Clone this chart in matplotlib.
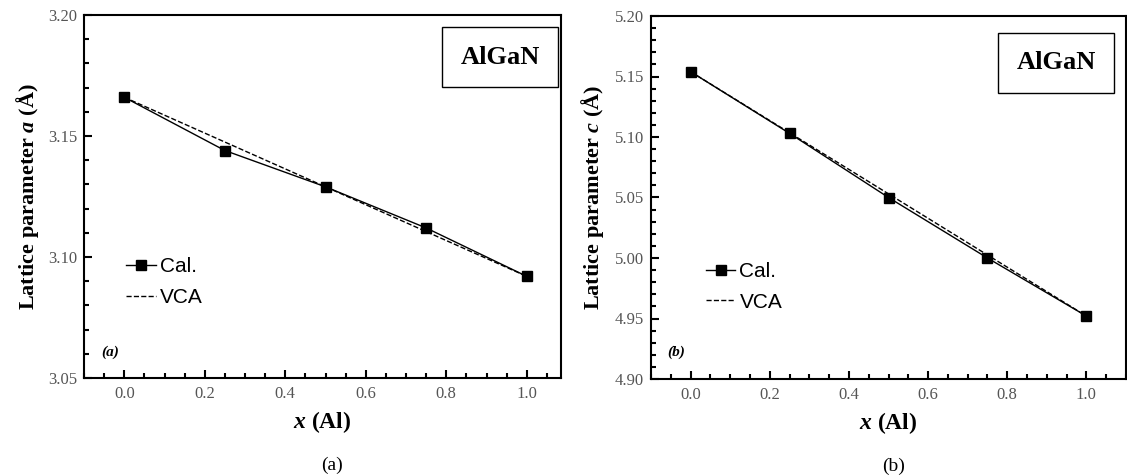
import matplotlib
matplotlib.use("Agg")
import matplotlib.pyplot as plt
from matplotlib.ticker import MultipleLocator

plt.rcParams['mathtext.fontset'] = 'custom'
plt.rcParams['mathtext.rm'] = 'Liberation Serif'
plt.rcParams['mathtext.it'] = 'Liberation Serif:italic'
plt.rcParams['mathtext.bf'] = 'Liberation Serif:bold'
plt.rcParams['mathtext.bfit'] = 'Liberation Serif:italic:bold'

x_al = [0.0, 0.25, 0.5, 0.75, 1.0]
a_cal = [3.166, 3.144, 3.129, 3.112, 3.092]
a_vca = [3.166, 3.1475, 3.129, 3.1105, 3.092]
c_cal = [5.154, 5.103, 5.050, 5.000, 4.952]
c_vca = [5.154, 5.1035, 5.053, 5.0025, 4.952]

serif = 'Liberation Serif'
sans = 'Liberation Sans'
tick_color = '#555555'

W, H = 1127, 476
fig = plt.figure(figsize=(W / 100, H / 100), dpi=100)

def px_axes(l, t, r, b):
    return [l / W, 1 - b / H, (r - l) / W, (b - t) / H]

ax1 = fig.add_axes(px_axes(84, 15, 561, 378))
ax2 = fig.add_axes(px_axes(651, 16, 1126, 379))

panels = [
    (ax1, a_cal, a_vca, (3.05, 3.20), (-0.1, 1.085), r'Lattice parameter $\mathbfit{a}$ (Å)', '(a)',
     (0.872, 0.884), (0.089, 0.332), (0.055, 0.07), -0.09),
    (ax2, c_cal, c_vca, (4.90, 5.20), (-0.1, 1.1), r'Lattice parameter $\mathbfit{c}$ (Å)', '(b)',
     (0.853, 0.871), (0.116, 0.322), (0.053, 0.075), -0.094),
]

for ax, cal, vca, ylim, xlim, ylab, tag, boxpos, legpos, tagpos, ylx in panels:
    ax.plot(x_al, cal, '-', color='black', lw=1.0, marker='s', ms=7.5, label='Cal.')
    ax.plot(x_al, vca, '--', color='black', lw=1.0, label='VCA')
    ax.set_xlim(*xlim)
    ax.set_ylim(*ylim)
    ax.xaxis.set_major_locator(MultipleLocator(0.2))
    ax.xaxis.set_minor_locator(MultipleLocator(0.05))
    ax.yaxis.set_major_locator(MultipleLocator(0.05))
    ax.yaxis.set_minor_locator(MultipleLocator(0.01))
    ax.tick_params(which='both', direction='in', top=False, right=False, width=1.5, color='black')
    ax.tick_params(which='major', length=6, labelsize=12, labelcolor=tick_color)
    ax.tick_params(axis='x', which='major', pad=6)
    ax.tick_params(axis='y', which='major', pad=5)
    ax.tick_params(which='minor', length=3.5)
    ax.yaxis.set_major_formatter(plt.FuncFormatter(lambda v, p: f'{v:.2f}'))
    ax.xaxis.set_major_formatter(plt.FuncFormatter(lambda v, p: f'{v:.1f}'))
    for lab in ax.get_xticklabels() + ax.get_yticklabels():
        lab.set_fontfamily(serif)
    for sp in ax.spines.values():
        sp.set_linewidth(1.5)
    ax.set_ylabel(ylab, fontfamily=serif, fontweight='bold', fontsize=16)
    ax.yaxis.set_label_coords(ylx, 0.5)
    ax.set_xlabel(r'$\mathbfit{x}$ (Al)', fontfamily=serif, fontweight='bold', fontsize=17)
    ax.xaxis.set_label_coords(0.5, -0.085)
    ax.text(boxpos[0], boxpos[1], 'AlGaN', transform=ax.transAxes, ha='center', va='center',
            fontfamily=serif, fontweight='bold', fontsize=19,
            bbox=dict(boxstyle='square,pad=0.7', fc='white', ec='black', lw=1.0))
    ax.text(tagpos[0], tagpos[1], tag, transform=ax.transAxes, ha='center', va='center',
            fontfamily=serif, fontweight='bold', style='italic', fontsize=11)
    ax.legend(loc='upper left', bbox_to_anchor=legpos, frameon=False, borderpad=0,
              borderaxespad=0, handlelength=1.4, handletextpad=0.2, labelspacing=0.55,
              prop={'family': sans, 'size': 15})

fig.text(0.295, 0.023, '(a)', ha='center', va='center', fontfamily=serif, fontsize=14)
fig.text(0.793, 0.021, '(b)', ha='center', va='center', fontfamily=serif, fontsize=14)

fig.savefig('out.png', dpi=100)
